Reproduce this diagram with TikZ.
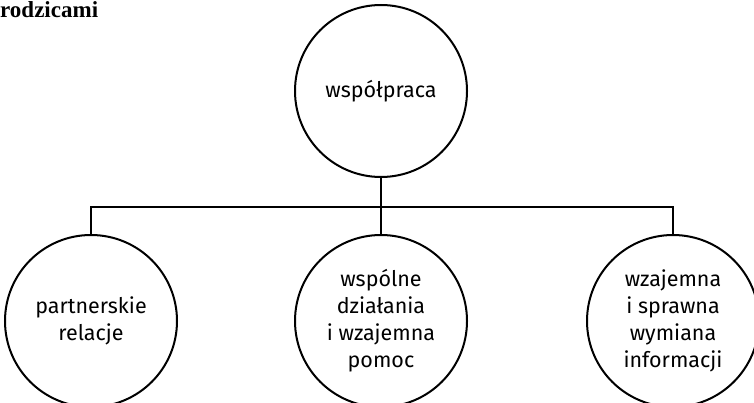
\documentclass[tikz,border=0pt]{standalone}
\usepackage{fontspec}
\newfontfamily\diagfont{Fira Sans}
\newfontfamily\headfont{Liberation Serif}
\usetikzlibrary{positioning}
\tikzstyle{Circle} = [draw, circle, line width=2pt, minimum size=172pt, inner sep=0pt, align=center, font=\diagfont\fontsize{21.5}{27}\selectfont]
\tikzstyle{Heading} = [inner sep=0pt, anchor=base west, font=\headfont\bfseries\fontsize{23}{27}\selectfont]
\tikzstyle{Link} = [line width=2pt]

\begin{document}
\begin{tikzpicture}[x=1pt,y=-1pt]
    \useasboundingbox (0,0) rectangle (754,403);
    \node[Heading] (title)   at (0,18)                   {rodzicami};
    \node[Circle]  (coop)    at (381,91)                 {współpraca};
    \node[Circle]  (joint)   [below=56pt of coop]        {wspólne\\działania\\i wzajemna\\pomoc};
    \node[Circle]  (partner) [left=116pt of joint]       {partnerskie\\relacje};
    \node[Circle]  (info)    [right=118pt of joint]      {wzajemna\\i sprawna\\wymiana\\informacji};
    \path (coop.south) ++(0,29) coordinate (bar);
    \draw[Link] (coop.south)    to (joint.north);
    \draw[Link] (partner.north) |- (bar) -| (info.north);
  \end{tikzpicture}
\end{document}
